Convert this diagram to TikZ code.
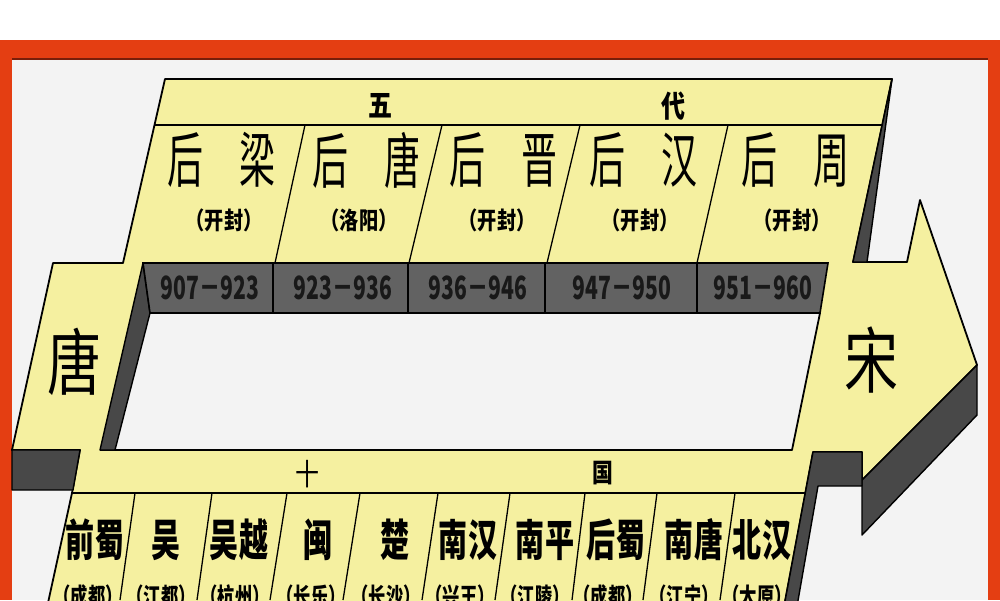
\documentclass[tikz,border=0pt]{standalone}
\usepackage{fontspec}
\newfontfamily\cjk{Noto Sans CJK SC}
\definecolor{yel}{RGB}{245,240,160}
\definecolor{facec}{RGB}{72,72,72}
\definecolor{barc}{RGB}{98,98,98}
\definecolor{redb}{RGB}{228,62,18}
\definecolor{darkred}{RGB}{120,30,10}
\definecolor{bgc}{RGB}{243,243,243}
\tikzset{
  outline/.style={draw=black,line width=1.8pt,line join=round},
  sepline/.style={draw=black,line width=1.3pt},
  darkface/.style={fill=facec,draw=black,line width=1.4pt,line join=round},
  bigname/.style={font=\cjk\fontsize{60}{60}\selectfont,xscale=0.6,inner sep=0pt},
  endname/.style={font=\cjk\fontsize{72}{72}\selectfont,xscale=0.75,inner sep=0pt},
  cityname/.style={font=\cjk\bfseries\fontsize{24}{24}\selectfont,xscale=0.8,inner sep=0pt},
  lowcity/.style={font=\cjk\bfseries\fontsize{24}{24}\selectfont,xscale=0.72,inner sep=0pt},
  datetext/.style={font=\cjk\bfseries\fontsize{32}{32}\selectfont,xscale=0.66,inner sep=0pt,text=black!90},
  headtext/.style={font=\cjk\bfseries\fontsize{30}{30}\selectfont,xscale=0.8,inner sep=0pt},
  kingdom/.style={font=\cjk\bfseries\fontsize{44}{44}\selectfont,xscale=0.66,inner sep=0pt},
}
\begin{document}
\begin{tikzpicture}[x=1pt,y=-1pt]
\useasboundingbox (0,0) rectangle (1000,600);
\clip (0,0) rectangle (1000,600);
% frame
\fill[white] (0,0) rectangle (1000,40);
\fill[redb] (0,40) rectangle (1000,600);
\fill[bgc] (12,60) rectangle (988,600);
\draw[darkred,line width=2pt] (12,59) -- (988,59);
% main yellow shape
\path[fill=yel,outline] (165,79) -- (892,79) -- (853,262) -- (907,262) -- (920,200)
  -- (977,365) -- (862,480) -- (862,452) -- (813,452) -- (783,612) -- (46,612)
  -- (72,493) -- (80,450) -- (12,450) -- (53,263) -- (123,263) -- cycle;
% dark side faces
\path[darkface] (892,79) -- (867,262) -- (853,262) -- cycle;
\path[darkface] (977,365) -- (977,415) -- (862,535) -- (862,480) -- cycle;
\path[darkface] (813,452) -- (862,452) -- (862,486) -- (818,486) -- (796,612) -- (783,612) -- cycle;
\path[darkface] (12,450) -- (80,450) -- (73,490) -- (12,490) -- cycle;
% hole
\path[fill=bgc] (150,313) -- (820,313) -- (792,450) -- (115,450) -- cycle;
\draw[outline] (100,450) -- (792,450) -- (820,313);
\path[darkface] (143,263) -- (150,313) -- (115,450) -- (100,450) -- cycle;
% date bar
\path[fill=barc,draw=black,line width=1.6pt] (143,263) -- (828,263) -- (820,313) -- (150,313) -- cycle;
\foreach \x in {273,408,545,697} \draw[sepline] (\x,263) -- (\x,313);
% upper band lines
\draw[outline] (154.5,125) -- (882,125);
\draw[sepline] (305,125) -- (275,263);
\draw[sepline] (442,125) -- (409,263);
\draw[sepline] (580,125) -- (547,263);
\draw[sepline] (728,125) -- (697,263);
% lower band lines
\draw[outline] (72,493) -- (805,493);
\foreach \a/\b in {135/120,212/197,287/270,360/343,438/422,510/495,585/572,657/643,735/720}
  \draw[sepline] (\a,493) -- (\b,600);
% header texts
\node[headtext] (wu) at (380,106) {五};
\node[headtext] (dai) at (673,106) {代};
\node[headtext,font=\cjk\fontsize{30}{30}\selectfont] (shi) at (307,474) {十};
\node[headtext,font=\cjk\bfseries\fontsize{26}{26}\selectfont] (guo) at (603,473) {国};
% end names
\node[endname] (tang) at (74,362) {唐};
\node[endname] (song) at (871,360) {宋};
% five dynasties
\node[bigname] (d1) at (221,160) {后\hspace{1em}梁};
\node[bigname] (d2) at (366,160) {后\hspace{1em}唐};
\node[bigname] (d3) at (503,160) {后\hspace{1em}晋};
\node[bigname] (d4) at (643,160) {后\hspace{1em}汉};
\node[bigname] (d5) at (795,160) {后\hspace{1em}周};
\node[cityname] (c1) at (224,220) {（开封）};
\node[cityname] (c2) at (359,220) {（洛阳）};
\node[cityname] (c3) at (497,220) {（开封）};
\node[cityname] (c4) at (640,220) {（开封）};
\node[cityname] (c5) at (792,220) {（开封）};
\node[datetext] (y1) at (210,288) {907－923};
\node[datetext] (y2) at (343,288) {923－936};
\node[datetext] (y3) at (478,288) {936－946};
\node[datetext] (y4) at (622,288) {947－950};
\node[datetext] (y5) at (763,288) {951－960};
% ten kingdoms
\node[kingdom] (k1) at (95,540) {前蜀};
\node[kingdom] (k2) at (166,540) {吴};
\node[kingdom] (k3) at (239,540) {吴越};
\node[kingdom] (k4) at (318,540) {闽};
\node[kingdom] (k5) at (395,540) {楚};
\node[kingdom] (k6) at (468,540) {南汉};
\node[kingdom] (k7) at (545,540) {南平};
\node[kingdom] (k8) at (616,540) {后蜀};
\node[kingdom] (k9) at (694,540) {南唐};
\node[kingdom] (k10) at (762,540) {北汉};
\node[lowcity] (t1) at (88,596) {（成都）};
\node[lowcity] (t2) at (161,596) {（江都）};
\node[lowcity] (t3) at (235,596) {（杭州）};
\node[lowcity] (t4) at (311,596) {（长乐）};
\node[lowcity] (t5) at (386,596) {（长沙）};
\node[lowcity] (t6) at (460,596) {（兴王）};
\node[lowcity] (t7) at (535,596) {（江陵）};
\node[lowcity] (t8) at (608,596) {（成都）};
\node[lowcity] (t9) at (684,596) {（江宁）};
\node[lowcity] (t10) at (757,596) {（太原）};
\end{tikzpicture}
\end{document}
